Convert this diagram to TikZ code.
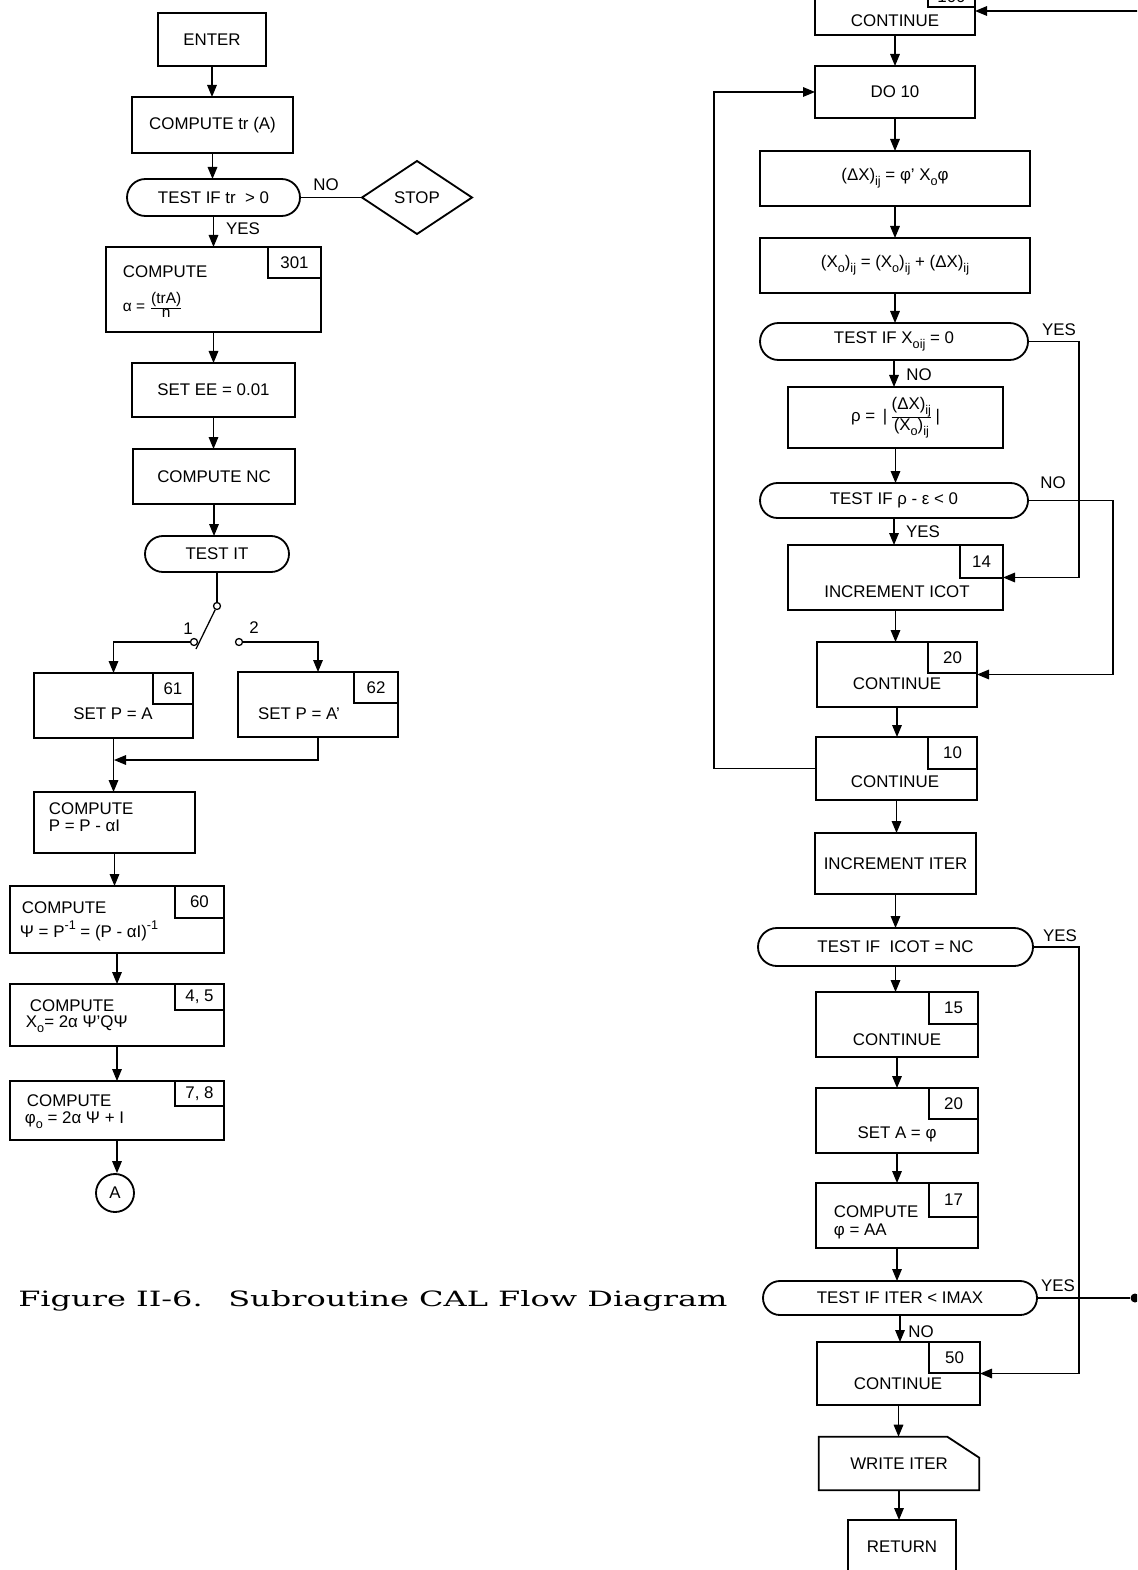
\documentclass[tikz,border=0pt]{standalone}
\usepackage{graphicx}
\usepackage{fontspec}
\setsansfont{Liberation Sans}
\newfontfamily\capfont{DejaVu Serif}
\usetikzlibrary{shapes.misc,shapes.geometric,arrows.meta}
\newcommand\PX{0.025cm}
\newcommand\subx[1]{\raisebox{-0.55ex}{\fontsize{9}{9}\selectfont #1}}
\newcommand\supx[1]{\raisebox{0.85ex}{\fontsize{9}{9}\selectfont #1}}
\newcommand\mybox[7][]{\node[box,#1,minimum width={(#5-#3)*\PX},minimum height={(#6-#4)*\PX}] (#2) at ({(#3+#5)/2},{(#4+#6)/2}) {#7};}
\newcommand\numbox[4]{\node[nbox,anchor=north east,minimum width={#2*\PX},minimum height={#3*\PX}] (#1n) at (#1.north east) {#4};}
\newcommand\vto[2]{\draw[arr] (#1.south) -- (#1.south |- #2.north);}
\tikzset{
  box/.style={draw,line width=1.3pt,rectangle,inner sep=0pt,outer sep=0pt},
  term/.style={draw,line width=1.3pt,rounded rectangle,inner sep=0pt,outer sep=0pt},
  dia/.style={draw,line width=1.3pt,diamond,inner sep=0pt,outer sep=0pt},
  nbox/.style={draw,line width=0.9pt,rectangle,inner sep=0pt,outer sep=0pt},
  sw/.style={draw,circle,line width=0.9pt,fill=white,inner sep=0pt,minimum size=7*\PX},
  con/.style={line width=0.9pt},
  arr/.style={con,-{Triangle[length=0.3cm,width=0.24cm]}},
  lbl/.style={inner sep=0pt},
}
\begin{document}
\begin{tikzpicture}[x=0.025cm,y=-0.025cm,every node/.style={font=\sffamily\fontsize{12}{14}\selectfont}]
\clip (0,0) rectangle (1137,1570);
% ---------------- left column
\mybox{enter}{158}{13}{266}{66}{ENTER}
\mybox{trA}{132}{97}{293}{153}{COMPUTE tr (A)}
\node[term,minimum width=173*\PX,minimum height=37*\PX] (t1) at (213.5,197.5) {TEST IF tr \;> 0};
\node[dia,minimum width=110*\PX,minimum height=73*\PX] (stop) at (417,197.5) {STOP};
\mybox{c301}{106}{247}{321}{332}{}
\numbox{c301}{53}{31}{301}
\node[anchor=west] (c301a) at (118,272) {COMPUTE};
\node[anchor=west] (c301b) at (118,305) {\fontsize{11}{12}\selectfont α = $\frac{\mbox{(trA)}}{\mbox{n}}$};
\mybox{ee}{132}{363}{295}{417}{SET EE = 0.01}
\mybox{nc}{133}{449}{295}{504}{COMPUTE NC}
\node[term,minimum width=144*\PX,minimum height=36*\PX] (tit) at (217,554) {TEST IT};
\node[sw] (piv) at (217,606) {};
\node[sw] (k1) at (194,642) {};
\node[sw] (k2) at (239,642) {};
\coordinate (arm) at (196,649);
\node[lbl] (n1) at (188,629) {1};
\node[lbl] (n2) at (254,628) {2};
\mybox{pa}{34}{673}{193}{738}{}
\numbox{pa}{40}{31}{61}
\node (pat) at (113,714) {SET P = A};
\mybox{pb}{238}{672}{398}{737}{}
\numbox{pb}{44}{31}{62}
\node (pbt) at (299,714) {SET P = A’};
\coordinate (mj) at (114,760);
\mybox{cp}{34}{792}{195}{853}{}
\node[anchor=west] (cpa) at (44,809) {COMPUTE};
\node[anchor=west] (cpb) at (44,826) {P = P - αI};
\mybox{c60}{10}{886}{224}{953}{}
\numbox{c60}{49}{32}{60}
\node[anchor=west] (c60a) at (17,908) {COMPUTE};
\node[anchor=west] (c60b) at (15,931) {Ψ = P\supx{-1} = (P - αI)\supx{-1}};
\mybox{c45}{10}{984}{224}{1046}{}
\numbox{c45}{49}{26}{4, 5}
\node[anchor=west] (c45a) at (25,1006) {COMPUTE};
\node[anchor=west] (c45b) at (21,1024) {X\subx{o}= 2α Ψ’QΨ};
\mybox{c78}{10}{1081}{224}{1140}{}
\numbox{c78}{49}{25}{7, 8}
\node[anchor=west] (c78a) at (22,1101) {COMPUTE};
\node[anchor=west] (c78b) at (20,1120) {φ\subx{o} = 2α Ψ + I};
\node[circle,draw,line width=1.3pt,minimum size=38*\PX,inner sep=0pt] (A) at (115,1193) {A};
% caption
\node[anchor=base west,inner sep=0pt] (cap) at (18,1306) {\resizebox{17.725cm}{0.4cm}{\capfont\fontsize{17}{20}\selectfont Figure II-6.\hspace{0.8em}Subroutine CAL Flow Diagram}};
% left connectors
\vto{enter}{trA}
\vto{trA}{t1}
\draw[con] (t1.east) -- (stop.west);
\node[lbl] (lno1) at (326,185) {NO};
\vto{t1}{c301}
\node[lbl] (lyes1) at (243,229) {YES};
\vto{c301}{ee}
\vto{ee}{nc}
\vto{nc}{tit}
\draw[con] (tit.south) -- (piv);
\draw[con] (piv) -- (arm);
\draw[arr] (k1.west) -| (pa.north);
\draw[arr] (k2.east) -| (pb.north);
\vto{pa}{cp}
\draw[arr] (pb.south) |- (mj);
\vto{cp}{c60}
\vto{c60}{c45}
\vto{c45}{c78}
\vto{c78}{A}
% ---------------- right column
\mybox{ct}{815}{-30}{975}{35}{}
\node[nbox,minimum width=47*\PX,minimum height=37*\PX] (ctn) at (951.5,-11.5) {};
\node (ctnt) at (951.5,-3) {100};
\node (ctt) at (895,21) {CONTINUE};
\coordinate (tin) at (1140,11);
\mybox{do}{815}{66}{975}{118}{DO 10}
\mybox{dx}{760}{151}{1030}{206}{(ΔX)\subx{ij} = φ’ X\subx{o}φ}
\mybox{xo}{760}{238}{1030}{293}{(X\subx{o})\subx{ij} = (X\subx{o})\subx{ij} + (ΔX)\subx{ij}}
\node[term,minimum width=268*\PX,minimum height=37*\PX] (t2) at (894,341.5) {TEST IF X\subx{oij} = 0};
\mybox{rho}{788}{387}{1003}{448}{ρ = \,|\,$\frac{\mbox{(ΔX)\subx{ij}}}{\mbox{(X\subx{o})\subx{ij}}}$\,|}
\node[term,minimum width=268*\PX,minimum height=35*\PX] (t3) at (894,500.5) {TEST IF ρ - ε < 0};
\mybox{inc}{788}{545}{1003}{610}{}
\numbox{inc}{43}{33}{14}
\node (inct) at (897,592) {INCREMENT ICOT};
\mybox{c20}{817}{642}{977}{707}{}
\numbox{c20}{49}{31}{20}
\node (c20t) at (897,684) {CONTINUE};
\mybox{c10}{816}{737}{977}{800}{}
\numbox{c10}{49}{32}{10}
\node (c10t) at (895,782) {CONTINUE};
\coordinate (lp) at (714,769);
\mybox{it}{815}{833}{976}{894}{INCREMENT ITER}
\node[term,minimum width=275*\PX,minimum height=38*\PX] (t4) at (895.5,947) {TEST IF \ ICOT = NC};
\coordinate (xr1) at (1079,0);
\coordinate (xr2) at (1113,0);
\mybox{c15}{816}{992}{978}{1057}{}
\numbox{c15}{49}{32}{15}
\node (c15t) at (897,1040) {CONTINUE};
\mybox{sa}{816}{1088}{978}{1153}{}
\numbox{sa}{49}{31}{20}
\node (sat) at (897,1134) {SET A = φ};
\mybox{c17}{816}{1183}{978}{1248}{}
\numbox{c17}{49}{34}{17}
\node[anchor=west] (c17a) at (829,1212) {COMPUTE};
\node[anchor=west] (c17b) at (829,1231) {φ = AA};
\node[term,minimum width=274*\PX,minimum height=34*\PX] (t5) at (900,1298) {TEST IF ITER < IMAX};
\node[circle,fill,inner sep=0pt,minimum size=9*\PX] (dot) at (1135,1298) {};
\mybox{c50}{817}{1342}{980}{1405}{}
\numbox{c50}{51}{31}{50}
\node (c50t) at (898,1384) {CONTINUE};
\node[inner sep=0pt,minimum width=160*\PX,minimum height=53*\PX] (wr) at (899,1463.5) {WRITE ITER};
\draw[line width=1.3pt] (wr.south west) -- (wr.north west) -- ([xshift=-32*\PX]wr.north east) -- ([yshift=-21*\PX]wr.north east) -- (wr.south east) -- cycle;
\mybox{ret}{848}{1520}{956}{1574}{RETURN}
% right connectors
\draw[arr] (tin) -- (tin -| ct.east);
\vto{ct}{do}
\vto{do}{dx}
\vto{dx}{xo}
\vto{xo}{t2}
\vto{t2}{rho}
\node[lbl] (lno2) at (919,375) {NO};
\draw[arr] (t2.east) -- (t2.east -| xr1) |- (inc.east);
\node[lbl] (lyes2) at (1059,330) {YES};
\vto{rho}{t3}
\vto{t3}{inc}
\node[lbl] (lyes3) at (923,532) {YES};
\draw[arr] (t3.east) -- (t3.east -| xr2) |- (c20.east);
\node[lbl] (lno3) at (1053,483) {NO};
\vto{inc}{c20}
\vto{c20}{c10}
\draw[arr] (c10.west) -- (c10.west -| lp) |- (do.west);
\vto{c10}{it}
\vto{it}{t4}
\draw[arr] (t4.east) -- (t4.east -| xr1) |- (c50.east);
\node[lbl] (lyes4) at (1060,936) {YES};
\vto{t4}{c15}
\vto{c15}{sa}
\vto{sa}{c17}
\vto{c17}{t5}
\draw[con] (t5.east) -- (dot);
\node[lbl] (lyes5) at (1058,1286) {YES};
\vto{t5}{c50}
\node[lbl] (lno5) at (921,1332) {NO};
\vto{c50}{wr}
\vto{wr}{ret}
\end{tikzpicture}
\end{document}
